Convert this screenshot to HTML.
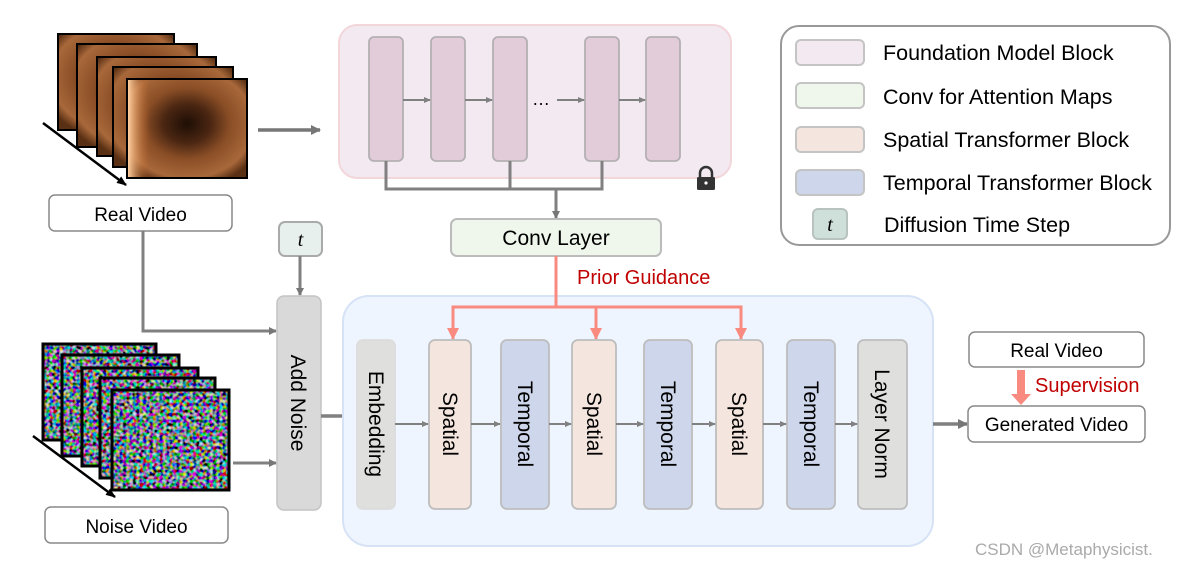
<!DOCTYPE html>
<html><head><meta charset="utf-8"><style>
html,body{margin:0;padding:0;background:#fff;}
svg{display:block;font-family:"Liberation Sans",Arial,sans-serif;}
</style></head><body>
<svg width="1184" height="567" viewBox="0 0 1184 567" xmlns="http://www.w3.org/2000/svg">
<defs>
<marker id="ag" markerWidth="8" markerHeight="8" refX="7" refY="4" orient="auto" markerUnits="userSpaceOnUse"><path d="M0,0 L8,4 L0,8 z" fill="#777"/></marker>
<marker id="ags" markerWidth="7" markerHeight="6" refX="6" refY="3" orient="auto" markerUnits="userSpaceOnUse"><path d="M0,0 L7,3 L0,6 z" fill="#808080"/></marker>
<marker id="ab" markerWidth="10" markerHeight="10" refX="9" refY="5" orient="auto" markerUnits="userSpaceOnUse"><path d="M0,0 L10,5 L0,10 z" fill="#777"/></marker>
<marker id="ak" markerWidth="10" markerHeight="8" refX="9" refY="4" orient="auto" markerUnits="userSpaceOnUse"><path d="M0,0 L10,4 L0,8 z" fill="#000"/></marker>
<marker id="ar" markerWidth="12" markerHeight="12" refX="11" refY="6" orient="auto" markerUnits="userSpaceOnUse"><path d="M0,0 L12,6 L0,12 z" fill="#f88a80"/></marker>
<radialGradient id="endo" cx="0.5" cy="0.45" r="0.65">
<stop offset="0" stop-color="#1e0e05"/><stop offset="0.3" stop-color="#4a2612"/><stop offset="0.55" stop-color="#8a4e26"/><stop offset="0.85" stop-color="#a8683a"/><stop offset="1" stop-color="#5a3014"/></radialGradient>
<linearGradient id="glare" x1="0" y1="0" x2="1" y2="0"><stop offset="0" stop-color="#ffd0a0"/><stop offset="1" stop-color="#c06020" stop-opacity="0"/></linearGradient>
<filter id="nz" x="0" y="0" width="1" height="1">
<feTurbulence type="fractalNoise" baseFrequency="0.3" numOctaves="1" seed="3"/>
<feComponentTransfer><feFuncR type="linear" slope="2.4" intercept="-1.0"/><feFuncG type="linear" slope="2.4" intercept="-0.95"/><feFuncB type="linear" slope="2.4" intercept="-0.9"/><feFuncA type="linear" slope="0" intercept="1"/></feComponentTransfer>
</filter>
</defs>

<g stroke="#000" stroke-width="2">
<rect x="58" y="34" width="116" height="96" fill="url(#endo)"/>
<rect x="77" y="44" width="120" height="103" fill="url(#endo)"/>
<rect x="97" y="57" width="119" height="99" fill="url(#endo)"/>
<rect x="113" y="67" width="120" height="100" fill="url(#endo)"/>
<rect x="127" y="79" width="120" height="99" fill="url(#endo)"/>
</g>
<rect x="128" y="80" width="22" height="97" fill="url(#glare)"/>
<line x1="43" y1="123" x2="126" y2="185" stroke="#000" stroke-width="2.5" marker-end="url(#ak)"/>
<line x1="258" y1="130" x2="320" y2="130" stroke="#777" stroke-width="3.5" marker-end="url(#ab)"/>

<rect x="49" y="195" width="183" height="36" rx="6" fill="#fff" stroke="#888" stroke-width="1.5"/>
<text x="140.5" y="221" font-size="19" text-anchor="middle">Real Video</text>

<g stroke="#000" stroke-width="3">
<rect x="43" y="344" width="113" height="96" filter="url(#nz)"/><rect x="43" y="344" width="113" height="96" fill="none"/>
<rect x="62" y="355" width="117" height="101" filter="url(#nz)"/><rect x="62" y="355" width="117" height="101" fill="none"/>
<rect x="82" y="368" width="116" height="98" filter="url(#nz)"/><rect x="82" y="368" width="116" height="98" fill="none"/>
<rect x="100" y="378" width="115" height="100" filter="url(#nz)"/><rect x="100" y="378" width="115" height="100" fill="none"/>
<rect x="112" y="390" width="117" height="100" filter="url(#nz)"/><rect x="112" y="390" width="117" height="100" fill="none"/>
</g>
<line x1="33" y1="436" x2="115" y2="497" stroke="#000" stroke-width="2.5" marker-end="url(#ak)"/>
<rect x="45" y="507" width="183" height="36" rx="6" fill="#fff" stroke="#888" stroke-width="1.5"/>
<text x="136.5" y="533" font-size="19" text-anchor="middle">Noise Video</text>

<polyline points="143,231 143,331 276,331" fill="none" stroke="#808080" stroke-width="3" marker-end="url(#ag)"/>
<line x1="233" y1="463" x2="276" y2="463" stroke="#808080" stroke-width="3" marker-end="url(#ag)"/>
<rect x="279" y="222" width="43" height="34" rx="6" fill="#e8f0ee" stroke="#aaa" stroke-width="2"/>
<text x="300.5" y="246" font-size="20" font-style="italic" font-family="Liberation Serif,serif" text-anchor="middle">t</text>
<line x1="300" y1="256" x2="300" y2="295" stroke="#808080" stroke-width="3" marker-end="url(#ag)"/>
<rect x="277" y="296" width="44" height="214" rx="7" fill="#d9d9d9" stroke="#c4c4c4" stroke-width="1.5"/>
<text transform="translate(291,403) rotate(90)" font-size="21" text-anchor="middle">Add Noise</text>
<line x1="321" y1="416" x2="343" y2="416" stroke="#808080" stroke-width="3.5"/>

<rect x="339" y="25" width="392" height="153" rx="18" fill="#f3e9f1" stroke="#f2d6da" stroke-width="2"/>
<g fill="#e3ccd9" stroke="#b4b0b2" stroke-width="1.8">
<rect x="369" y="37" width="34" height="124" rx="5"/>
<rect x="431" y="37" width="34" height="124" rx="5"/>
<rect x="493" y="37" width="34" height="124" rx="5"/>
<rect x="585" y="37" width="34" height="124" rx="5"/>
<rect x="646" y="37" width="34" height="124" rx="5"/>
</g>
<g stroke="#808080" stroke-width="2">
<line x1="403" y1="100" x2="430" y2="100" marker-end="url(#ags)"/>
<line x1="465" y1="100" x2="492" y2="100" marker-end="url(#ags)"/>
<line x1="557" y1="100" x2="584" y2="100" marker-end="url(#ags)"/>
<line x1="619" y1="100" x2="645" y2="100" marker-end="url(#ags)"/>
</g>
<text x="541" y="105" font-size="18" text-anchor="middle">…</text>
<g fill="none" stroke="#808080" stroke-width="3">
<polyline points="386,161 386,189 602,189 602,161"/>
<line x1="510" y1="161" x2="510" y2="189"/>
</g>
<line x1="556" y1="189" x2="556" y2="218" stroke="#808080" stroke-width="3" marker-end="url(#ag)"/>
<path d="M700,178 v-5 a6,6 0 0 1 12,0 v5" fill="none" stroke="#333" stroke-width="2.5"/>
<rect x="697" y="177" width="18" height="13" rx="1.5" fill="#333"/>
<circle cx="706" cy="183" r="1.6" fill="#fff"/>

<rect x="451" y="219" width="210" height="37" rx="6" fill="#eff7ec" stroke="#bbb" stroke-width="2"/>
<text x="556" y="245" font-size="21" text-anchor="middle">Conv Layer</text>

<text x="577" y="284" font-size="20" fill="#c00000">Prior Guidance</text>

<rect x="343" y="296" width="590" height="250" rx="26" fill="#eff5fe" stroke="#d6e2f6" stroke-width="2"/>
<g fill="none" stroke="#f88a80" stroke-width="3">
<line x1="556" y1="256" x2="556" y2="308"/>
<polyline points="453,339 453,307 741,307 741,339"/>
<line x1="453" y1="307" x2="453" y2="339" marker-end="url(#ar)"/>
<line x1="596" y1="307" x2="596" y2="339" marker-end="url(#ar)"/>
<line x1="741" y1="307" x2="741" y2="339" marker-end="url(#ar)"/>
</g>

<g stroke="#bdbdbd" stroke-width="1.8">
<rect x="357" y="340" width="38" height="169" rx="6" fill="#dfe0de" stroke="#dcdcdc"/>
<rect x="429" y="340" width="42" height="169" rx="6" fill="#f4e6de"/>
<rect x="501" y="340" width="48" height="169" rx="6" fill="#cdd6ea"/>
<rect x="572" y="340" width="44" height="169" rx="6" fill="#f4e6de"/>
<rect x="644" y="340" width="48" height="169" rx="6" fill="#cdd6ea"/>
<rect x="716" y="340" width="47" height="169" rx="6" fill="#f4e6de"/>
<rect x="787" y="340" width="48" height="169" rx="6" fill="#cdd6ea"/>
<rect x="858" y="340" width="49" height="169" rx="6" fill="#dfe0de"/>
</g>
<g stroke="#808080" stroke-width="2">
<line x1="395" y1="424" x2="428" y2="424" marker-end="url(#ags)"/>
<line x1="471" y1="424" x2="500" y2="424" marker-end="url(#ags)"/>
<line x1="549" y1="424" x2="571" y2="424" marker-end="url(#ags)"/>
<line x1="616" y1="424" x2="643" y2="424" marker-end="url(#ags)"/>
<line x1="692" y1="424" x2="715" y2="424" marker-end="url(#ags)"/>
<line x1="763" y1="424" x2="786" y2="424" marker-end="url(#ags)"/>
<line x1="835" y1="424" x2="857" y2="424" marker-end="url(#ags)"/>
</g>
<g font-size="21" text-anchor="middle">
<text transform="translate(369,424) rotate(90)">Embedding</text>
<text transform="translate(443,424) rotate(90)">Spatial</text>
<text transform="translate(518,424) rotate(90)">Temporal</text>
<text transform="translate(587,424) rotate(90)">Spatial</text>
<text transform="translate(661,424) rotate(90)">Temporal</text>
<text transform="translate(732,424) rotate(90)">Spatial</text>
<text transform="translate(804,424) rotate(90)">Temporal</text>
<text transform="translate(875,424) rotate(90)">Layer Norm</text>
</g>

<line x1="933" y1="424" x2="967" y2="424" stroke="#808080" stroke-width="3.5" marker-end="url(#ab)"/>
<rect x="969" y="332" width="175" height="35" rx="6" fill="#fff" stroke="#888" stroke-width="1.5"/>
<text x="1056.5" y="357" font-size="19" text-anchor="middle">Real Video</text>
<rect x="968" y="406" width="177" height="36" rx="6" fill="#fff" stroke="#888" stroke-width="1.5"/>
<text x="1056.5" y="431" font-size="19" text-anchor="middle">Generated Video</text>
<path d="M1017,370 h8 v24 h6 l-10,11 l-10,-11 h6 z" fill="#f88a80"/>
<text x="1035" y="392" font-size="20" fill="#c00000">Supervision</text>

<rect x="781" y="26" width="389" height="219" rx="18" fill="#fff" stroke="#999" stroke-width="2"/>
<g stroke="#c4c4c4" stroke-width="2">
<rect x="796" y="40" width="68" height="25" rx="5" fill="#f3e9f1"/>
<rect x="796" y="83" width="68" height="25" rx="5" fill="#eff7ec"/>
<rect x="796" y="127" width="68" height="25" rx="5" fill="#f4e6de"/>
<rect x="796" y="170" width="68" height="25" rx="5" fill="#cdd6ea"/>
<rect x="813" y="209" width="34" height="30" rx="5" fill="#cfe0da" stroke="#b8c2be"/>
</g>
<text x="830" y="231" font-size="20" font-style="italic" font-family="Liberation Serif,serif" text-anchor="middle">t</text>
<g font-size="21.5">
<text x="883" y="60">Foundation Model Block</text>
<text x="883" y="104">Conv for Attention Maps</text>
<text x="883" y="147">Spatial Transformer Block</text>
<text x="883" y="190">Temporal Transformer Block</text>
<text x="884" y="232">Diffusion Time Step</text>
</g>

<text x="975" y="555" font-size="17" fill="#aaa">CSDN @Metaphysicist.</text>
</svg>
</body></html>
